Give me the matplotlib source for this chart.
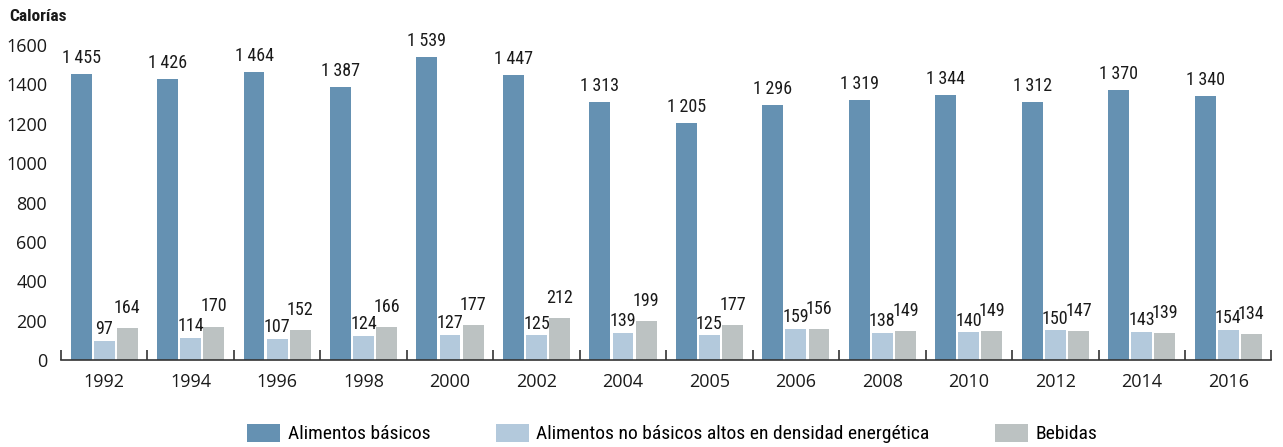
import matplotlib
matplotlib.use("Agg")
import matplotlib.pyplot as plt
import numpy as np
from matplotlib.patches import Patch
from matplotlib import font_manager as fm

years = ["1992", "1994", "1996", "1998", "2000", "2002", "2004", "2005",
         "2006", "2008", "2010", "2012", "2014", "2016"]
basicos = [1455, 1426, 1464, 1387, 1539, 1447, 1313, 1205, 1296, 1319, 1344, 1312, 1370, 1340]
no_basicos = [97, 114, 107, 124, 127, 125, 139, 125, 159, 138, 140, 150, 143, 154]
bebidas = [164, 170, 152, 166, 177, 212, 199, 177, 156, 149, 149, 147, 139, 134]
series_names = ["Alimentos básicos", "Alimentos no básicos altos en densidad energética", "Bebidas"]
colors = ["#6591b2", "#b3c9dc", "#bcc2c2"]

names = {f.name for f in fm.fontManager.ttflist}
cond = None
for cand in ["Liberation Sans Narrow", "Roboto Condensed", "DejaVu Sans Condensed", "Open Sans Condensed"]:
    if cand in names:
        cond = cand
        break
base = "Open Sans" if "Open Sans" in names else "DejaVu Sans"
plt.rcParams['font.family'] = [base, 'DejaVu Sans']
cond_family = [cond, 'DejaVu Sans'] if cond else [base]
cond_kw = dict(family=cond_family)
if not cond:
    cond_kw['stretch'] = 'condensed'

fig = plt.figure(figsize=(12.83, 4.47), dpi=100)
ax = fig.add_axes([0.0475, 0.1946, 0.9435, 0.7047])

x = np.arange(len(years))
w = 0.242
gap = 0.025
offs = [-(w + gap), 0, (w + gap)]
data = [basicos, no_basicos, bebidas]
label_off = [5, 2, 8]

def fmt(v):
    return f"{v:,}".replace(",", "\u2009")

for i, (vals, c) in enumerate(zip(data, colors)):
    ax.bar(x + offs[i], vals, width=w, color=c, zorder=2)
    for xi, v in zip(x, vals):
        ax.annotate(fmt(v), (xi + offs[i], v), xytext=(0, label_off[i]),
                    textcoords="offset points", ha="center", va="bottom",
                    fontsize=13, color="#1a1a1a", annotation_clip=False, **cond_kw)

ax.set_xlim(-0.5, len(years) - 0.5)
ax.set_ylim(0, 1600)
ax.set_yticks(range(0, 1601, 200))
ax.tick_params(axis='y', length=0, labelsize=13, pad=10, colors="#1a1a1a")
ax.set_xticks(x)
ax.set_xticklabels(years)
ax.tick_params(axis='x', length=0, labelsize=13, pad=9, colors="#1a1a1a")
ax.set_xticks(np.arange(-0.5, len(years)), minor=True)
ax.tick_params(axis='x', which='minor', direction='in', length=7, width=1.2, color="#333333")
for s in ["top", "right", "left"]:
    ax.spines[s].set_visible(False)
ax.spines["bottom"].set_color("#333333")
ax.spines["bottom"].set_linewidth(1.2)

fig.text(0.007, 0.963, "Calorías", fontsize=12.5, fontweight="bold", ha="left", va="center",
         color="#1a1a1a", **cond_kw)

handles = [Patch(facecolor=c, label=n) for c, n in zip(colors, series_names)]
fig.legend(handles=handles, loc="center", bbox_to_anchor=(0.524, 0.03), ncol=3,
           frameon=False, handlelength=1.7, handleheight=1.05,
           columnspacing=3.35, handletextpad=0.4, prop=dict(family=cond_family, size=14))

fig.savefig("out.png", dpi=100)
